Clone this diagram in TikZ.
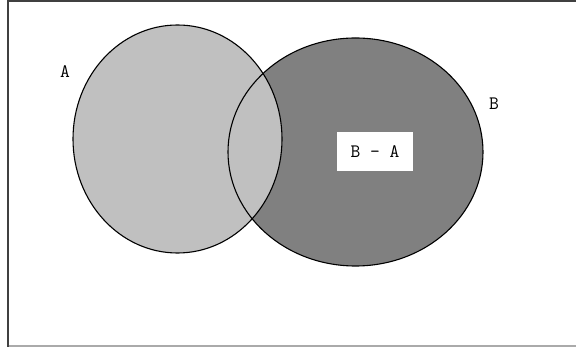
\documentclass[tikz,border=0pt]{standalone}
\usetikzlibrary{positioning}
\definecolor{setlight}{RGB}{192,192,192}
\definecolor{setdark}{RGB}{128,128,128}
\definecolor{framedark}{RGB}{64,64,64}
\definecolor{framelight}{RGB}{170,170,170}
\tikzset{
    setline/.style={black, line width=1.1pt},
    setlabel/.style={font=\ttfamily\fontsize{19}{19}\selectfont, inner sep=0pt},
}

\begin{document}
\begin{tikzpicture}[x=1pt, y=-1pt]
    \useasboundingbox (0,0) rectangle (576,347);

    % --- frame ---
    \coordinate (topleft) at (7.5,1.5);
    \coordinate (topright) at (576,1.5);
    \coordinate (botleft) at (7.5,347);
    \draw[framedark, line width=2pt] (botleft) -- (topleft) -- (topright);
    \draw[framelight, line width=1.2pt] (8.5,346) -- (576,346);

    % --- sets ---
    \coordinate (centA) at (177.5,139);
    \coordinate (centB) at (355.5,152);
    \fill[setdark] (centB) ellipse [x radius=127.5, y radius=114];
    \fill[setlight] (centA) ellipse [x radius=104.5, y radius=114];
    \draw[setline] (centB) ellipse [x radius=127.5, y radius=114];
    \draw[setline] (centA) ellipse [x radius=104.5, y radius=114];

    % --- labels ---
    \node[setlabel] (labA) at (65,72) {A};
    \node[setlabel] (labB) at (494,104) {B};
    \node[setlabel, fill=white, minimum width=76pt, minimum height=39pt] (diff) at (375,152) {B - A};
\end{tikzpicture}
\end{document}
